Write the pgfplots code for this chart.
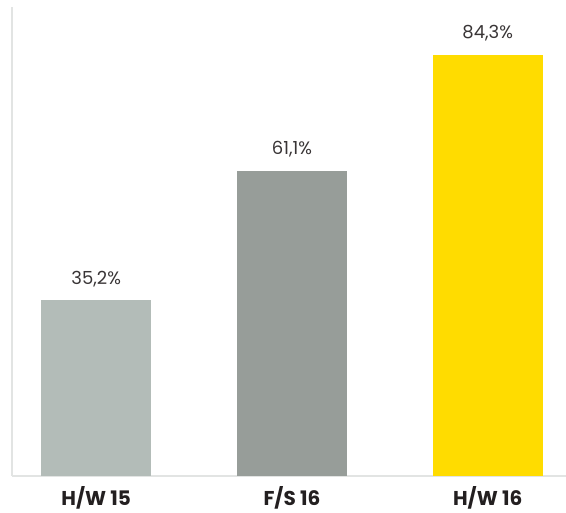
\documentclass[border=0pt]{standalone}
\usepackage{pgfplots}
\pgfplotsset{compat=1.18}
\usepackage{fontspec}
\setmainfont{Poppins}
\definecolor{barA}{HTML}{B3BCB8}
\definecolor{barB}{HTML}{979D99}
\definecolor{barC}{HTML}{FFDC00}
\definecolor{axl}{HTML}{E2E4E3}
\definecolor{txt}{HTML}{231F20}
\begin{document}
\begin{tikzpicture}[x=1pt,y=1pt]
\useasboundingbox (-12,-37) rectangle (554,476);
\begin{axis}[
  at={(0,0)}, anchor=south west,
  scale only axis, width=554pt, height=469pt,
  xmin=-0.43, xmax=2.40, ymin=0, ymax=93.9,
  axis x line*=bottom, axis y line*=left,
  axis line style={axl, line width=1.6pt},
  ytick=\empty,
  xtick={0,1,2}, xticklabels={H/W 15,F/S 16,H/W 16},
  xticklabel style={font=\fontsize{20}{24}\selectfont\bfseries, text=txt, yshift=-7pt},
  major tick length=0pt,
  ybar, bar width=110pt, bar shift=0pt,
  /pgf/number format/assume math mode=true,
  nodes near coords={\pgfmathprintnumber[use comma,fixed,fixed zerofill,precision=1,assume math mode=true]{\pgfplotspointmeta}\%},
  nodes near coords style={font=\fontsize{18}{22}\selectfont, text=txt!90, yshift=10pt},
  every axis plot/.append style={draw=none},
]
\addplot[fill=barA] coordinates {(0,35.2)};
\addplot[fill=barB] coordinates {(1,61.1)};
\addplot[fill=barC] coordinates {(2,84.3)};
\end{axis}
\end{tikzpicture}
\end{document}
